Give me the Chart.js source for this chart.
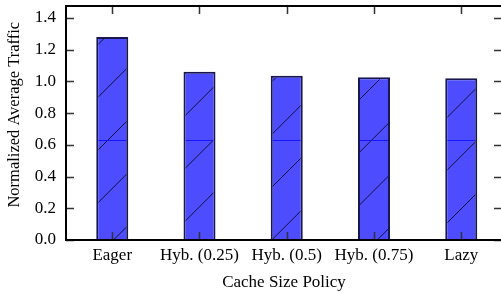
<!DOCTYPE html>
<html>
<head>
<meta charset="utf-8">
<script src="https://cdn.jsdelivr.net/npm/chart.js@4.4.1/dist/chart.umd.min.js"></script>
<style>
  html, body { margin: 0; padding: 0; background: #fff; overflow: hidden; }
  #wrap { position: relative; width: 503px; height: 293px; }
</style>
</head>
<body>
<div id="wrap"><canvas id="traffic-chart"></canvas></div>
<script>
// Data
const categories = ['Eager', 'Hyb. (0.25)', 'Hyb. (0.5)', 'Hyb. (0.75)', 'Lazy'];
const trafficValues = [1.28, 1.06, 1.035, 1.026, 1.02];
const yTicks = [0.0, 0.2, 0.4, 0.6, 0.8, 1.0, 1.2, 1.4];

const FONT = 'Liberation Serif';

// Hatch texture for the bars (gnuplot style diagonal lines)
function makeHatch() {
  const tile = document.createElement('canvas');
  tile.width = 503;
  tile.height = 293;
  const c = tile.getContext('2d');
  c.fillStyle = '#4d4dff';
  c.fillRect(0, 0, tile.width, tile.height);
  c.strokeStyle = '#10103a';
  c.lineWidth = 1;
  for (let k = -2; k < 20; k++) {
    const off = 37 + k * 52.75;
    c.beginPath();
    c.moveTo(off - 400, 400);
    c.lineTo(off + 100, -100);
    c.stroke();
  }
  c.strokeStyle = '#1414ff';
  c.beginPath();
  c.moveTo(0, 140.5);
  c.lineTo(tile.width, 140.5);
  c.stroke();
  return c.createPattern(tile, 'no-repeat');
}

// Frame with inward ticks on all four sides
const framePlugin = {
  id: 'frame',
  afterDraw(chart) {
    const { ctx, chartArea } = chart;
    const { left, right, top, bottom } = chartArea;
    const xs = chart.scales.x;
    const ys = chart.scales.y;
    ctx.save();
    ctx.strokeStyle = '#333';
    ctx.lineWidth = 1.5;
    const len = 8;
    yTicks.forEach(v => {
      const py = Math.round(ys.getPixelForValue(v)) + 0.5;
      ctx.beginPath();
      ctx.moveTo(left, py); ctx.lineTo(left + len, py);
      ctx.moveTo(right, py); ctx.lineTo(right - len, py);
      ctx.stroke();
    });
    categories.forEach((cat, i) => {
      const px = Math.round(xs.getPixelForValue(i)) + 0.5;
      ctx.beginPath();
      ctx.moveTo(px, bottom); ctx.lineTo(px, bottom - len);
      ctx.moveTo(px, top); ctx.lineTo(px, top + len);
      ctx.stroke();
    });
    ctx.strokeStyle = '#000';
    ctx.lineWidth = 2;
    ctx.strokeRect(left, top, right - left, bottom - top);
    ctx.restore();
  }
};

const ctx = document.getElementById('traffic-chart').getContext('2d');

new Chart(ctx, {
  type: 'bar',
  data: {
    datasets: [{
      label: 'Normalized Average Traffic',
      data: trafficValues.map((v, i) => ({ x: i, y: v })),
      backgroundColor: makeHatch(),
      borderColor: '#18184e',
      borderWidth: 2,
      barPercentage: 0.367,
      categoryPercentage: 1.0
    }]
  },
  options: {
    responsive: true,
    maintainAspectRatio: false,
    animation: false,
    layout: { padding: { top: 6, right: 1, left: 0, bottom: 0 } },
    plugins: {
      legend: { display: false },
      tooltip: { enabled: false }
    },
    scales: {
      x: {
        type: 'linear',
        offset: false,
        min: -0.53,
        max: 4.467,
        grid: { display: false, drawTicks: false, offset: false },
        border: { display: false },
        afterFit: s => {
          s.height = 53;
          s.paddingLeft = 0;
          s.paddingRight = 0;
        },
        afterBuildTicks: s => { s.ticks = categories.map((c, i) => ({ value: i })); },
        ticks: {
          padding: 5,
          color: '#000',
          font: { family: FONT, size: 17 },
          callback: v => categories[v]
        },
        title: {
          display: true,
          text: 'Cache Size Policy',
          color: '#000',
          font: { family: FONT, size: 17 },
          padding: { top: 0, bottom: 0 }
        }
      },
      y: {
        min: 0,
        max: 1.475,
        grid: { display: false, drawTicks: false },
        border: { display: false },
        afterFit: s => {
          s.width = 66;
          s.paddingTop = 0;
          s.paddingBottom = 0;
        },
        afterBuildTicks: s => { s.ticks = yTicks.map(v => ({ value: v })); },
        ticks: {
          padding: 10,
          color: '#000',
          font: { family: FONT, size: 17 },
          callback: v => v.toFixed(1)
        },
        title: {
          display: true,
          // leading spaces nudge the rotated title up a little, as in the original
          text: '    Normalized Average Traffic',
          color: '#000',
          font: { family: FONT, size: 16.5 },
          padding: { top: 5, bottom: 0 }
        }
      }
    }
  },
  plugins: [framePlugin]
});
</script>
</body>
</html>
